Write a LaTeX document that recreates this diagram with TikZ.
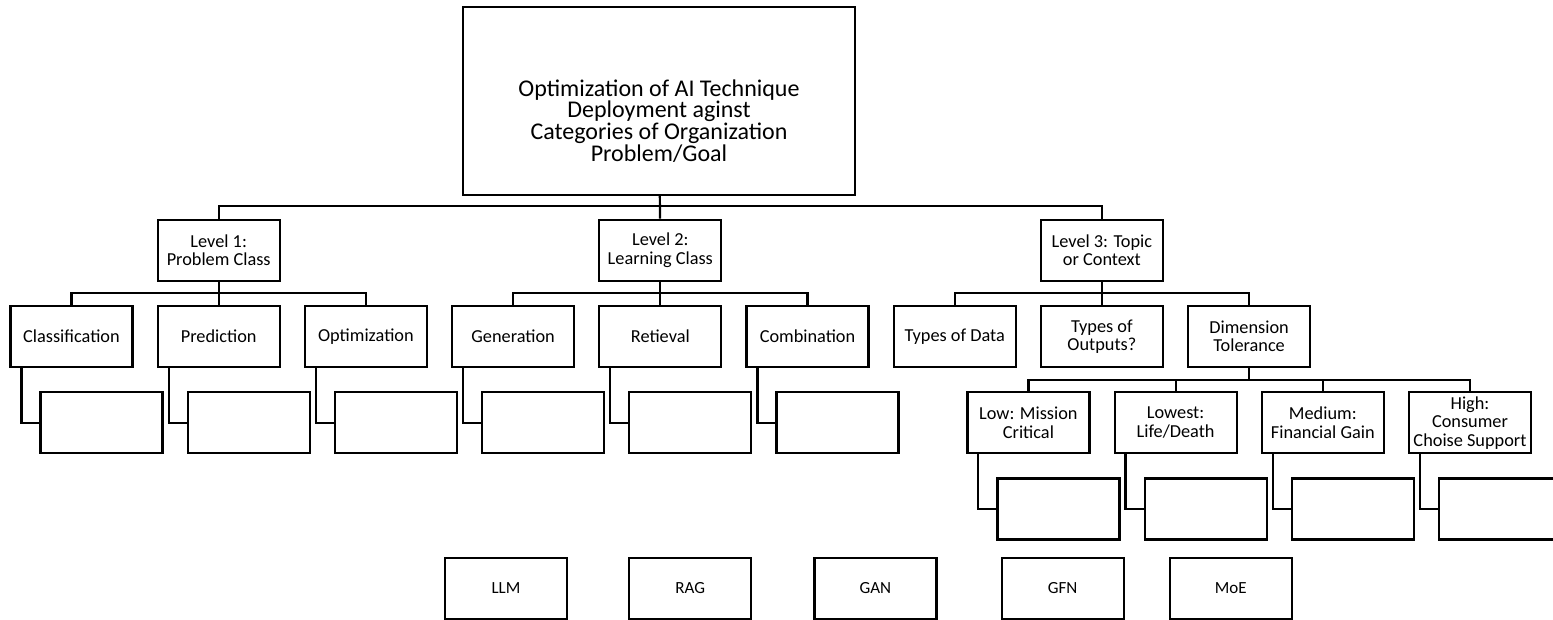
\documentclass[tikz,border=0pt]{standalone}
\usepackage{fontspec}
\setmainfont{Carlito}
\usetikzlibrary{positioning}

\begin{document}
\begin{tikzpicture}[node distance=23pt and 23pt,line width=2.2pt,
  box/.style={draw,minimum width=122pt,minimum height=61pt,inner sep=2pt,align=center,
    font=\fontsize{18.3pt}{18.5pt}\selectfont},
  tech/.style={box,font=\fontsize{17pt}{18pt}\selectfont},
  leaf/.style={box,below=23pt of #1,xshift=30pt}]
\useasboundingbox (0,0) rectangle (1553pt,-620pt);
% root
\node[box,minimum width=392pt,minimum height=188pt] (top) at (659pt,-101pt) {};
\node[align=center,font=\fontsize{24pt}{21.7pt}\selectfont] (toptxt) at ([yshift=-20pt]top.center)
  {Optimization of AI Technique\\Deployment aginst\\Categories of Organization\\Problem/Goal};
% second row
\node[box] (cls) at (71.5pt,-336.5pt) {Classification};
\node[box,right=of cls] (pred) {Prediction};
\node[box,right=of pred] (opt) {Optimization};
\node[box,right=of opt] (gen) {Generation};
\node[box,right=of gen] (ret) {Retieval};
\node[box,right=of ret] (comb) {Combination};
\node[box,right=of comb] (tdata) {Types of Data};
\node[box,right=of tdata] (tout) {Types of\\Outputs?};
\node[box,right=of tout] (dim) {Dimension\\Tolerance};
% levels
\node[box,above=of pred] (L1) {Level 1:\\Problem Class};
\node[box,above=of ret] (L2) {Level 2:\\Learning Class};
\node[box,above=of tout] (L3) {Level 3: Topic\\or Context};
% tolerance row
\node[box,below=23pt of dim,xshift=-73.5pt] (lowest) {Lowest:\\Life/Death};
\node[box,left=of lowest] (low) {Low: Mission\\Critical};
\node[box,right=of lowest] (med) {Medium:\\Financial Gain};
\node[box,right=of med] (high) {High:\\Consumer\\Choise Support};
% empty leaves
\foreach \n in {cls,pred,opt,gen,ret,comb,low,lowest,med,high}
  \node[leaf=\n] (\n2) {};
% techniques
\node[tech] (llm) at (506pt,-588.5pt) {LLM};
\node[tech,right=60pt of llm] (rag) {RAG};
\node[tech,right=61pt of rag] (gan) {GAN};
\node[tech,right=63pt of gan] (gfn) {GFN};
\node[tech,right=44pt of gfn] (moe) {MoE};
% connectors
\draw (top) -- (L2);
\draw (L1.north) -- ++(0,12.5pt) -| (L3.north);
\foreach \p/\a/\b/\c in {L1/cls/pred/opt,L2/gen/ret/comb,L3/tdata/tout/dim} {
  \draw (\p) -- (\b);
  \draw (\a.north) -- ++(0,11.5pt) -| (\c.north);
}
\draw (dim.south) -- ++(0,-11.5pt);
\draw (low.north) -- ++(0,11.5pt) -| (lowest.north);
\draw (low.north) ++(0,11.5pt) -| (med.north);
\draw (low.north) ++(0,11.5pt) -| (high.north);
\foreach \n in {cls,pred,opt,gen,ret,comb,low,lowest,med,high}
  \draw ([xshift=12pt]\n.south west) |- (\n2.west);
\end{tikzpicture}
\end{document}
